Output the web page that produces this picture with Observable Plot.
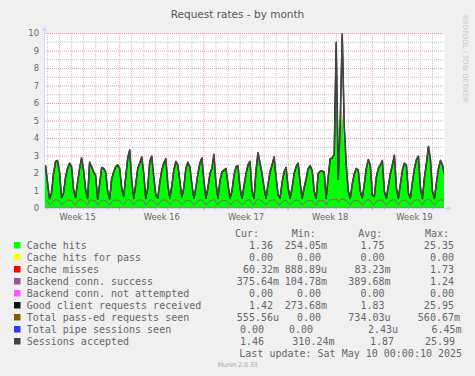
<!DOCTYPE html>
<html><head><meta charset="utf-8">
<script src="https://cdn.jsdelivr.net/npm/d3@7"></script>
<script src="https://cdn.jsdelivr.net/npm/@observablehq/plot@0.6"></script>
<style>
html,body{margin:0;padding:0;background:#F0F0F0;}
#wrap{position:relative;width:475px;height:376px;overflow:hidden;background:#F0F0F0;}
#wrap svg{position:absolute;left:0;top:0;}
</style></head><body><div id="wrap"></div>
<script>
const title = "Request rates - by month";
const yTicks = [0,1,2,3,4,5,6,7,8,9,10];
const weekLabels = ["Week 15","Week 16","Week 17","Week 18","Week 19"];
const weekCenters = ["2025-04-09T12:00Z","2025-04-16T12:00Z","2025-04-23T12:00Z","2025-04-30T12:00Z","2025-05-07T12:00Z"];
const firstSample = "2025-04-06T16:00Z";   // samples every 4 hours
const stepHours = 4;
const domainStart = "2025-04-06T18:00Z", domainEnd = "2025-05-10T00:00Z";

// Sessions accepted (top dark line), per 4 h sample
const sessionsAccepted = [
 2.2,2.45,
 1.5,0.55,0.9,2.0,2.7,2.75,
 2.1,0.65,0.9,1.8,2.3,2.6,
 2.4,1.1,0.65,1.5,2.3,2.9,
 2.2,1.1,0.6,2.65,2.4,2.1,
 1.9,0.55,1.4,2.35,2.3,2.1,
 1.0,0.55,1.7,2.1,2.4,2.5,
 2.3,1.2,0.7,1.8,2.9,3.35,
 1.6,0.6,1.4,2.3,2.6,2.95,
 2.0,0.6,1.2,2.7,3.0,1.8,
 0.8,0.6,1.5,2.2,2.6,2.85,
 1.4,0.6,1.3,2.2,2.7,2.5,
 1.6,0.65,1.2,2.3,2.65,2.4,
 1.4,0.6,1.2,2.0,2.6,2.9,
 1.6,0.6,1.2,2.0,2.3,3.1,
 1.5,0.6,1.6,2.1,2.2,2.3,
 1.4,0.6,1.0,1.9,2.4,2.45,
 1.2,0.6,1.3,2.0,2.5,2.7,
 1.0,0.6,2.2,3.2,2.6,2.0,
 1.2,0.6,1.4,2.1,2.5,2.95,
 1.8,0.8,0.6,1.5,2.1,2.35,
 1.2,0.6,1.2,2.0,2.4,2.6,
 1.5,0.6,1.2,1.7,2.3,2.45,
 2.2,1.0,0.6,2.0,2.15,2.15,
 2.1,0.6,1.8,2.85,2.9,3.1,
 9.5,1.7,5.0,10.0,4.7,2.5,
 1.0,0.6,1.4,2.0,2.3,2.2,
 1.0,0.6,1.4,2.3,2.8,2.5,
 0.8,0.7,1.8,2.3,2.5,2.75,
 1.0,0.6,1.3,2.0,2.5,3.05,
 1.2,0.6,1.4,2.2,2.6,2.5,
 0.9,0.6,1.5,2.3,2.8,3.0,
 1.2,0.6,1.8,2.6,3.55,2.8,
 1.0,0.6,1.5,2.3,2.75,2.5,
 2.0
];
// Good client requests received (black line)
const clientRequests = [
 2.17,2.42,
 1.47,0.52,0.87,1.97,2.67,2.72,
 2.07,0.62,0.87,1.77,2.27,2.57,
 2.37,1.07,0.62,1.47,2.27,2.87,
 2.17,1.07,0.57,2.62,2.37,2.07,
 1.87,0.52,1.37,2.32,2.27,2.07,
 0.97,0.52,1.67,2.07,2.37,2.47,
 2.27,1.17,0.67,1.77,2.87,3.32,
 1.57,0.57,1.37,2.27,2.57,2.92,
 1.97,0.57,1.17,2.67,2.97,1.77,
 0.77,0.57,1.47,2.17,2.57,2.82,
 1.37,0.57,1.27,2.17,2.67,2.47,
 1.57,0.62,1.17,2.27,2.62,2.37,
 1.37,0.57,1.17,1.97,2.57,2.87,
 1.57,0.57,1.17,1.97,2.27,3.07,
 1.47,0.57,1.57,2.07,2.17,2.27,
 1.37,0.57,0.97,1.87,2.37,2.42,
 1.17,0.57,1.27,1.97,2.47,2.67,
 0.97,0.57,2.17,3.17,2.57,1.97,
 1.17,0.57,1.37,2.07,2.47,2.92,
 1.77,0.77,0.57,1.47,2.07,2.32,
 1.17,0.57,1.17,1.97,2.37,2.57,
 1.47,0.57,1.17,1.67,2.27,2.42,
 2.17,0.97,0.57,1.97,2.12,2.12,
 2.07,0.57,1.77,2.82,2.87,3.07,
 9.45,1.67,4.9,9.9,4.6,2.47,
 0.97,0.57,1.37,1.97,2.27,2.17,
 0.97,0.57,1.37,2.27,2.77,2.47,
 0.77,0.67,1.77,2.27,2.47,2.72,
 0.97,0.57,1.27,1.97,2.47,3.02,
 1.17,0.57,1.37,2.17,2.57,2.47,
 0.87,0.57,1.47,2.27,2.77,2.97,
 1.17,0.57,1.77,2.57,3.52,2.77,
 0.97,0.57,1.47,2.27,2.72,2.47,
 1.97
];
// Cache hits (green area)
const cacheHits = [
 2.12,2.37,
 1.43,0.50,0.82,1.85,2.61,2.67,
 2.03,0.60,0.81,1.62,2.21,2.52,
 2.32,1.04,0.60,1.37,2.21,2.82,
 2.13,1.04,0.55,2.54,2.31,2.02,
 1.83,0.50,1.32,2.22,2.21,2.02,
 0.94,0.50,1.61,1.99,2.25,2.42,
 2.22,1.14,0.65,1.69,2.81,3.27,
 1.53,0.55,1.32,2.17,2.51,2.87,
 1.93,0.55,1.12,2.59,2.91,1.73,
 0.74,0.55,1.42,2.07,2.51,2.77,
 1.33,0.55,1.22,2.05,2.61,2.42,
 1.53,0.60,1.12,2.17,2.56,2.32,
 1.33,0.55,1.12,1.89,2.51,2.82,
 1.53,0.55,1.12,1.89,2.21,3.02,
 1.43,0.55,1.52,1.97,2.11,2.22,
 1.33,0.55,0.92,1.79,2.31,2.37,
 1.13,0.55,1.22,1.85,2.41,2.62,
 0.94,0.55,2.07,3.11,2.51,1.92,
 1.13,0.55,1.32,1.99,2.41,2.87,
 1.73,0.74,0.55,1.39,2.01,2.27,
 1.13,0.55,1.12,1.87,2.31,2.52,
 1.43,0.55,1.12,1.59,2.21,2.37,
 2.12,0.94,0.55,1.87,2.00,2.07,
 2.02,0.55,1.71,2.72,2.81,3.02,
 9.3,1.62,3.5,5.5,4.0,2.42,
 0.94,0.55,1.32,1.89,2.21,2.12,
 0.94,0.55,1.32,2.17,2.71,2.42,
 0.74,0.65,1.72,2.19,2.41,2.67,
 0.94,0.55,1.22,1.87,2.41,2.97,
 1.13,0.55,1.32,2.09,2.51,2.42,
 0.84,0.55,1.42,2.17,2.71,2.92,
 1.13,0.55,1.72,2.45,3.44,2.72,
 0.94,0.55,1.42,2.19,2.66,2.42,
 1.92
];
// Cache misses (red, stacked on hits)
const cacheMisses = [
 0.05,0.05,
 0.04,0.02,0.05,0.12,0.06,0.05,
 0.04,0.02,0.06,0.15,0.06,0.05,
 0.05,0.03,0.02,0.10,0.06,0.05,
 0.04,0.03,0.02,0.08,0.06,0.05,
 0.04,0.02,0.05,0.10,0.06,0.05,
 0.03,0.02,0.06,0.08,0.12,0.05,
 0.05,0.03,0.02,0.08,0.06,0.05,
 0.04,0.02,0.05,0.10,0.06,0.05,
 0.04,0.02,0.05,0.08,0.06,0.04,
 0.03,0.02,0.05,0.10,0.06,0.05,
 0.04,0.02,0.05,0.12,0.06,0.05,
 0.04,0.02,0.05,0.10,0.06,0.05,
 0.04,0.02,0.05,0.08,0.06,0.05,
 0.04,0.02,0.05,0.08,0.06,0.05,
 0.04,0.02,0.05,0.10,0.06,0.05,
 0.04,0.02,0.05,0.08,0.06,0.05,
 0.04,0.02,0.05,0.12,0.06,0.05,
 0.03,0.02,0.10,0.06,0.06,0.05,
 0.04,0.02,0.05,0.08,0.06,0.05,
 0.04,0.03,0.02,0.08,0.06,0.05,
 0.04,0.02,0.05,0.10,0.06,0.05,
 0.04,0.02,0.05,0.08,0.06,0.05,
 0.05,0.03,0.02,0.10,0.12,0.05,
 0.05,0.02,0.06,0.10,0.06,0.05,
 0.10,0.04,0.08,0.15,0.10,0.05,
 0.03,0.02,0.05,0.08,0.06,0.05,
 0.03,0.02,0.05,0.10,0.06,0.05,
 0.03,0.02,0.05,0.08,0.06,0.05,
 0.03,0.02,0.05,0.10,0.06,0.05,
 0.04,0.02,0.05,0.08,0.06,0.05,
 0.03,0.02,0.05,0.10,0.06,0.05,
 0.04,0.02,0.05,0.12,0.08,0.05,
 0.03,0.02,0.05,0.08,0.06,0.05,
 0.05
];
// Backend conn. success (purple line)
const backendConn = [
 0.48,0.50,
 0.40,0.20,0.28,0.45,0.50,0.48,
 0.42,0.22,0.30,0.44,0.48,0.47,
 0.45,0.30,0.20,0.42,0.50,0.50,
 0.44,0.30,0.20,0.48,0.47,0.45,
 0.42,0.20,0.35,0.46,0.47,0.44,
 0.30,0.20,0.38,0.45,0.48,0.47,
 0.45,0.30,0.22,0.40,0.50,0.52,
 0.38,0.20,0.35,0.46,0.48,0.50,
 0.42,0.20,0.32,0.48,0.50,0.40,
 0.28,0.20,0.36,0.45,0.48,0.50,
 0.35,0.20,0.33,0.45,0.50,0.46,
 0.38,0.22,0.30,0.46,0.48,0.45,
 0.35,0.20,0.30,0.44,0.48,0.50,
 0.38,0.20,0.30,0.44,0.46,0.52,
 0.36,0.20,0.38,0.45,0.46,0.46,
 0.35,0.20,0.28,0.42,0.48,0.48,
 0.32,0.20,0.33,0.44,0.48,0.50,
 0.28,0.20,0.45,0.52,0.48,0.42,
 0.32,0.20,0.35,0.45,0.48,0.50,
 0.40,0.25,0.20,0.38,0.45,0.47,
 0.32,0.20,0.32,0.44,0.47,0.48,
 0.36,0.20,0.30,0.40,0.46,0.47,
 0.45,0.28,0.20,0.44,0.45,0.45,
 0.44,0.20,0.40,0.50,0.50,0.52,
 0.55,0.35,0.50,0.55,0.50,0.45,
 0.30,0.20,0.36,0.44,0.46,0.45,
 0.30,0.20,0.35,0.46,0.50,0.47,
 0.26,0.22,0.42,0.46,0.47,0.50,
 0.30,0.20,0.33,0.44,0.48,0.52,
 0.35,0.20,0.36,0.46,0.48,0.47,
 0.28,0.20,0.36,0.46,0.50,0.50,
 0.35,0.20,0.42,0.48,0.55,0.50,
 0.30,0.20,0.36,0.46,0.50,0.47,
 0.45
];
// Series that stay at zero across the month (first & last sample)
const flatTimes = ["2025-04-06T16:00Z","2025-05-10T00:00Z"];
const notAttempted = [0, 0];
const passedRequests = [0, 0];
const pipeSessions = [0, 0];

// Legend
const legendLabels = ["Cache hits","Cache hits for pass","Cache misses","Backend conn. success","Backend conn. not attempted","Good client requests received","Total pass-ed requests seen","Total pipe sessions seen","Sessions accepted"];
const legendColors = ["#00FF00","#FFFF00","#FF0000","#995599","#FF55FF","#111111","#7F5F00","#3333FF","#444444"];
const curVals = ["1.36","0.00","60.32m","375.64m","0.00","1.42","555.56u","0.00","1.46"];
const minVals = ["254.05m","0.00","888.89u","104.78m","0.00","273.68m","0.00","0.00","310.24m"];
const avgVals = ["1.75","0.00","83.23m","389.68m","0.00","1.83","734.03u","2.43u","1.87"];
const maxVals = ["25.35","0.00","1.73","1.24","0.00","25.95","560.67m","6.45m","25.99"];
const colHeads = ["Cur:","Min:","Avg:","Max:"];
const lastUpdate = "Last update: Sat May 10 00:00:10 2025";
const watermark = "RRDTOOL / TOBI OETIKER";
const version = "Munin 2.0.33";

// ---- build ----
const t0 = new Date(firstSample).getTime();
const times = sessionsAccepted.map((_, i) => new Date(t0 + i * stepHours * 3600e3));
const stackRows = [];
times.forEach((t, i) => {
  stackRows.push({t, s: "Cache hits", v: cacheHits[i]});
  stackRows.push({t, s: "Cache misses", v: cacheMisses[i]});
});
const flat = flatTimes.map(d => new Date(d));
const dStart = new Date(domainStart), dEnd = new Date(domainEnd);
const weekLines = d3.utcSunday.range(dStart, dEnd);
const dayLines = d3.utcDay.range(dStart, dEnd).filter(d => d.getUTCDay() !== 0);
const halfLines = d3.range(0.5, 10, 1);
const colorOf = Object.fromEntries(legendLabels.map((l, i) => [l, legendColors[i]]));
const gridGray = "#c6c6c6", gridRed = "#e89c9c", axisCol = "#CFD6F8";

const chart = Plot.plot({
  width: 475, height: 230,
  marginLeft: 44, marginRight: 31, marginTop: 33, marginBottom: 22,
  style: {background: "transparent", fontFamily: "DejaVu Sans", fontSize: "8.4px", color: "#666", overflow: "visible"},
  x: {type: "utc", domain: [dStart, dEnd], axis: null},
  y: {domain: [0, 10], axis: null},
  color: {domain: legendLabels, range: legendColors},
  marks: [
    Plot.frame({fill: "white", stroke: null}),
    Plot.ruleY(halfLines, {stroke: gridGray, strokeDasharray: "1,1"}),
    Plot.ruleX(dayLines, {stroke: gridGray, strokeDasharray: "1,1"}),
    Plot.ruleY(yTicks.slice(1), {stroke: gridRed, strokeDasharray: "1,1"}),
    Plot.ruleX(weekLines, {stroke: gridRed, strokeDasharray: "1,1"}),
    Plot.areaY(stackRows, {x: "t", y: "v", z: "s", fill: "s", order: ["Cache hits", "Cache misses"], curve: "linear", clip: true}),
    Plot.lineY(times, {x: d => d, y: (d, i) => backendConn[i], stroke: colorOf["Backend conn. success"], strokeWidth: 1, clip: true}),
    Plot.lineY(flat, {x: d => d, y: (d, i) => notAttempted[i], stroke: colorOf["Backend conn. not attempted"], clip: true}),
    Plot.lineY(times, {x: d => d, y: (d, i) => clientRequests[i], stroke: colorOf["Good client requests received"], strokeWidth: 1.3, clip: true}),
    Plot.lineY(flat, {x: d => d, y: (d, i) => passedRequests[i], stroke: colorOf["Total pass-ed requests seen"], clip: true}),
    Plot.lineY(flat, {x: d => d, y: (d, i) => pipeSessions[i], stroke: "#8f8ff8", clip: true}),
    Plot.lineY(times, {x: d => d, y: (d, i) => sessionsAccepted[i], stroke: colorOf["Sessions accepted"], strokeWidth: 1.6, clip: true}),
    // axis lines
    Plot.ruleY([0], {x1: dStart, x2: d3.utcHour.offset(dEnd, 6), stroke: axisCol}),
    Plot.ruleX([dStart], {y1: 0, y2: 10.12, stroke: axisCol}),
    // small tick marks outside canvas
    Plot.ruleX(dayLines, {y1: 0, y2: -0.11, stroke: "#c4c4c4"}),
    Plot.ruleX(weekLines, {y1: 0, y2: -0.15, stroke: "#e49696"}),
    Plot.axisY(yTicks, {tickSize: 0, tickPadding: 5.5, fontSize: 8.4, fill: "#666", label: null}),
    Plot.text(weekLabels, {x: (d, i) => new Date(weekCenters[i]), y: () => 0, text: d => d, lineAnchor: "top", dy: 6, fontSize: 8.4, fill: "#666"})
  ]
});
document.getElementById("wrap").appendChild(chart);

// arrowheads (rrdtool style), placed through the scales
const xs = chart.scale("x"), ys = chart.scale("y");
const svg = d3.select(chart);
const ax = xs.apply(d3.utcHour.offset(dEnd, 6)), ay = ys.apply(0) + 0.5;
svg.append("path").attr("d", `M${ax},${ay - 2.5}L${ax + 5},${ay}L${ax},${ay + 2.5}Z`).attr("fill", axisCol);
const bx = xs.apply(dStart) + 0.5, by = ys.apply(10.12);
svg.append("path").attr("d", `M${bx - 2.5},${by}L${bx},${by - 5}L${bx + 2.5},${by}Z`).attr("fill", axisCol);

// overlay: title, watermark, legend
const ov = d3.select("#wrap").append("svg").attr("width", 475).attr("height", 376);
ov.append("text").attr("x", 237.5).attr("y", 18).attr("text-anchor", "middle")
  .attr("font-family", "DejaVu Sans").attr("font-size", 10.5).attr("fill", "#555").text(title);
ov.append("text").attr("transform", "translate(462.7,15) rotate(90)")
  .attr("font-family", "DejaVu Sans").attr("font-size", 6.8).attr("fill", "#c4c4c4").text(watermark);

const mono = "DejaVu Sans Mono";
const cw = 6.02;
const colRight = [279, 327, 390.5, 460];
const colHeadX = [235, 291.7, 358.3, 425];
// the justified rrdtool legend places the last two rows differently (right edge of visible text)
const rowOverride = {7: [264, 313, 398, 461.5], 8: [264, 334.5, 394, 455]};
const base0 = 249, rowH = 12;
colHeads.forEach((h, j) => ov.append("text").attr("x", colHeadX[j]).attr("y", base0 - rowH)
  .attr("font-family", mono).attr("font-size", 10).attr("fill", "#666").text(h));
const cols = [curVals, minVals, avgVals, maxVals];
legendLabels.forEach((lab, i) => {
  const yb = base0 + i * rowH;
  ov.append("rect").attr("x", 14).attr("y", yb - 7).attr("width", 6.5).attr("height", 6.5).attr("fill", legendColors[i]);
  ov.append("text").attr("x", 26.7).attr("y", yb).attr("font-family", mono).attr("font-size", 10).attr("fill", "#666").text(lab);
  cols.forEach((arr, j) => {
    const v = arr[i];
    const hasSuffix = /[a-zA-Z]$/.test(v);
    const xr = rowOverride[i] ? rowOverride[i][j] : colRight[j] - (hasSuffix ? 0 : cw);
    ov.append("text").attr("x", xr).attr("y", yb).attr("text-anchor", "end")
      .attr("font-family", mono).attr("font-size", 10).attr("fill", "#666").text(v);
  });
});
ov.append("text").attr("x", 239.3).attr("y", base0 + 9 * rowH).attr("font-family", mono).attr("font-size", 10).attr("fill", "#666").text(lastUpdate);
ov.append("text").attr("x", 237.5).attr("y", 366.5).attr("text-anchor", "middle").attr("font-family", "DejaVu Sans")
  .attr("font-size", 6.5).attr("fill", "#aaa").attr("letter-spacing", -0.2).text(version);
</script></body></html>
